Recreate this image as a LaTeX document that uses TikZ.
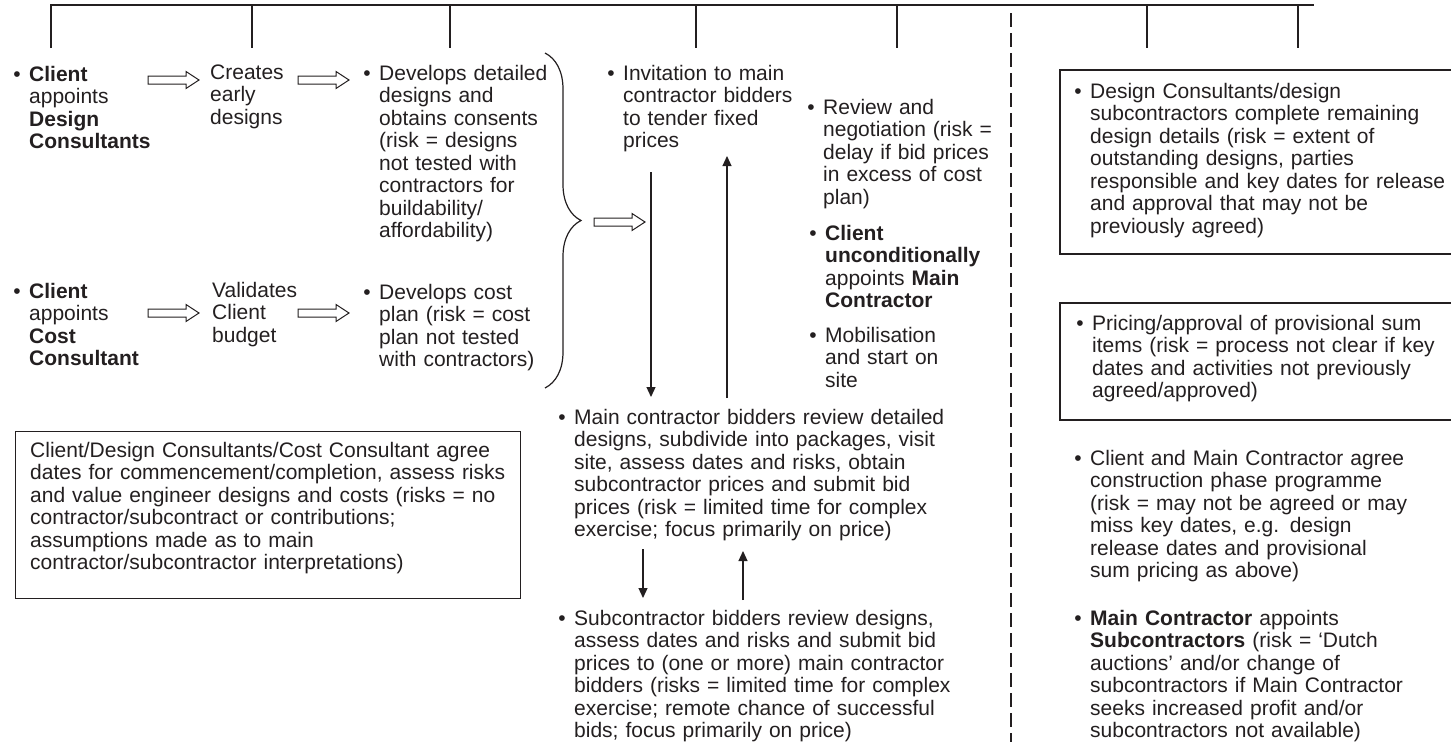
\documentclass[tikz,border=0pt]{standalone}
\usepackage{fontspec}
\setmainfont{Liberation Sans}
\usetikzlibrary{arrows.meta,decorations.pathreplacing}
\definecolor{ink}{RGB}{35,31,32}
\newcommand\bl{\llap{•\hspace{8.5pt}}}
\begin{document}
\begin{tikzpicture}[x=1pt,y=-1pt,
  txt/.style={anchor=base west, inner sep=0pt, align=left, text width=#1,
    font=\fontsize{21}{22.5}\selectfont, text=ink},
  txt/.default=400pt,
  ln/.style={line width=1.2pt, draw=ink},
  tri/.style={-{Triangle[length=10pt,width=9pt]}},
  harrow/.pic={\draw[line width=1pt, draw=ink, fill=white]
    (0,-4) -- (38,-4) -- (38,-8.5) -- (51,0) -- (38,8.5) -- (38,4) -- (0,4) -- cycle;}
]
\useasboundingbox (0,0) rectangle (1451,742);

% top timeline
\coordinate (t0) at (51,5);
\coordinate (tE) at (1314,5);
\draw[ln] (51,48) -- (t0) -- (tE);
\foreach \xx in {252,450,696,897,1147,1298}
  \draw[ln] (\xx,5) -- (\xx,48);
\draw[ln, dash pattern=on 14pt off 6pt] (1011,13) -- (1011,742);

% left column
\node[txt] (n1) at (29,81) {\bl\textbf{Client}\\appoints\\\textbf{Design}\\\textbf{Consultants}};
\node[txt] (n2) at (210,79) {Creates\\early\\designs};
\node[txt] (n3) at (379,80) {\bl Develops detailed\\designs and\\obtains consents\\(risk = designs\\not tested with\\contractors for\\buildability/\\affordability)};
\node[txt] (n4) at (29,298) {\bl\textbf{Client}\\appoints\\\textbf{Cost}\\\textbf{Consultant}};
\node[txt] (n5) at (212,297) {Validates\\Client\\budget};
\node[txt] (n6) at (379,299) {\bl Develops cost\\plan (risk = cost\\plan not tested\\with contractors)};

\pic at (148,80) {harrow};
\pic at (298,80) {harrow};
\pic at (148,313) {harrow};
\pic at (298,313) {harrow};

\draw[ln, decorate, decoration={brace, amplitude=36pt}] (545,53) -- (545,388);
\pic at (594,222) {harrow};

\node[draw=ink, line width=1.2pt, inner sep=0pt, minimum width=505pt, minimum height=167pt, anchor=north west] (box) at (15,431) {};
\node[txt=490pt] (nb) at (30,457) {Client/Design Consultants/Cost Consultant agree\\dates for commencement/completion, assess risks\\and value engineer designs and costs (risks = no\\contractor/subcontract or contributions;\\assumptions made as to main\\contractor/subcontractor interpretations)};

% middle column
\node[txt] (n7) at (623,80) {\bl Invitation to main\\contractor bidders\\to tender fixed\\prices};
\node[txt] (n8) at (823,114) {\bl Review and\\negotiation (risk =\\delay if bid prices\\in excess of cost\\plan)};
\node[txt] (n9) at (825,240) {\bl\textbf{Client}\\\textbf{unconditionally}\\appoints \textbf{Main}\\\textbf{Contractor}};
\node[txt] (n10) at (825,342) {\bl Mobilisation\\and start on\\site};

\coordinate (d1a) at (651,172); \coordinate (d1b) at (651,397);
\draw[ln, tri] (d1a) -- (d1b);
\coordinate (u1a) at (727,398); \coordinate (u1b) at (727,156);
\draw[ln, tri] (u1a) -- (u1b);

\node[txt=430pt] (n12) at (574,424) {\bl Main contractor bidders review detailed\\designs, subdivide into packages, visit\\site, assess dates and risks, obtain\\subcontractor prices and submit bid\\prices (risk = limited time for complex\\exercise; focus primarily on price)};
\node[txt=430pt] (n13) at (574,625) {\bl Subcontractor bidders review designs,\\assess dates and risks and submit bid\\prices to (one or more) main contractor\\bidders (risks = limited time for complex\\exercise; remote chance of successful\\bids; focus primarily on price)};

\coordinate (d2a) at (643,549); \coordinate (d2b) at (643,598);
\draw[ln, tri] (d2a) -- (d2b);
\coordinate (u2a) at (743,600); \coordinate (u2b) at (743,551);
\draw[ln, tri] (u2a) -- (u2b);

% right column
\draw[ln] (1453,70) -- (1060,70) -- (1060,254) -- (1453,254);
\node[txt=380pt] (r1) at (1090,98) {\bl Design Consultants/design\\subcontractors complete remaining\\design details (risk = extent of\\outstanding designs, parties\\responsible and key dates for release\\and approval that may not be\\previously agreed)};
\draw[ln] (1453,303) -- (1060,303) -- (1060,420) -- (1453,420);
\node[txt=380pt] (r2) at (1092,330) {\bl Pricing/approval of provisional sum\\items (risk = process not clear if key\\dates and activities not previously\\agreed/approved)};
\node[txt=380pt] (r3) at (1090,465) {\bl Client and Main Contractor agree\\construction phase programme\\(risk = may not be agreed or may\\miss key dates, e.g. design\\release dates and provisional\\sum pricing as above)};
\node[txt=380pt] (r4) at (1090,625) {\bl\textbf{Main Contractor} appoints\\\textbf{Subcontractors} (risk = ‘Dutch\\auctions’ and/or change of\\subcontractors if Main Contractor\\seeks increased profit and/or\\subcontractors not available)};
\end{tikzpicture}
\end{document}
